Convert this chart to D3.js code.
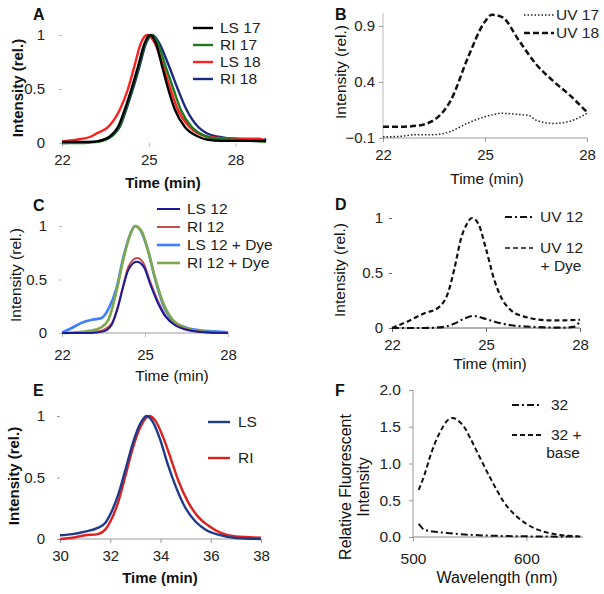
<!DOCTYPE html>
<html><head><meta charset="utf-8">
<script src="https://cdn.jsdelivr.net/npm/d3@7"></script>
<style>body{margin:0;background:#fff}svg{display:block;font-family:"Liberation Sans",Arial,sans-serif}</style>
</head><body><svg id="c" width="604" height="594"></svg>
<script>
// ---------- Panel A ----------
const aLS17 = [[22,0.01],[22.5,0.01],[23,0.01],[23.2,0.015],[23.65,0.06],[23.94,0.15],[24.17,0.31],[24.4,0.5],[24.63,0.71],[24.85,0.92],[25.05,1.0],[25.25,0.92],[25.46,0.71],[25.67,0.5],[25.9,0.31],[26.24,0.15],[26.7,0.06],[27.05,0.03],[27.5,0.02],[28,0.02],[28.5,0.02],[29.05,0.02]];
const aRI17 = [[22,0.0],[22.5,0.0],[23,0.005],[23.4,0.02],[23.7,0.06],[23.98,0.15],[24.2,0.31],[24.42,0.5],[24.65,0.71],[24.87,0.92],[25.08,1.0],[25.3,0.93],[25.58,0.71],[25.85,0.5],[26.1,0.31],[26.48,0.15],[26.9,0.07],[27.2,0.045],[27.6,0.035],[28,0.03],[28.5,0.02],[29.05,0.01]];
const aLS18 = [[22,0.015],[22.5,0.03],[23,0.06],[23.2,0.09],[23.6,0.15],[24.0,0.31],[24.28,0.5],[24.5,0.71],[24.72,0.92],[24.95,1.0],[25.2,0.93],[25.5,0.71],[25.75,0.5],[26.0,0.31],[26.4,0.15],[27.0,0.06],[27.5,0.045],[28,0.04],[28.5,0.04],[28.8,0.04],[29.05,0.02]];
const aRI18 = [[22,0.0],[22.5,0.005],[23,0.01],[23.4,0.025],[23.75,0.07],[24.0,0.15],[24.22,0.31],[24.45,0.5],[24.68,0.71],[24.9,0.92],[25.12,1.0],[25.35,0.93],[25.7,0.71],[26.0,0.5],[26.3,0.31],[26.7,0.15],[27.0,0.09],[27.35,0.06],[27.7,0.045],[28,0.04],[28.5,0.03],[28.9,0.02],[29.05,0.04]];
const aNames = ["LS 17","RI 17","LS 18","RI 18"];
const aXTicks = [22,25,28];
const aYTicks = [0,0.5,1];

// ---------- Panel B ----------
const bUV17 = [[22,-0.09],[22.5,-0.085],[23,-0.07],[23.5,-0.07],[24,-0.04],[24.5,0.034],[25,0.09],[25.5,0.12],[26,0.11],[26.3,0.1],[26.5,0.06],[27,0.03],[27.5,0.05],[28,0.12]];
const bUV18 = [[22,0.0],[22.5,0.0],[23,0.01],[23.5,0.06],[24,0.24],[24.5,0.62],[25,0.94],[25.2,1.0],[25.5,0.98],[26,0.77],[26.5,0.56],[27,0.41],[27.5,0.28],[28,0.13]];
const bNames = ["UV 17","UV 18"];
const bXTicks = [22,25,28];
const bYTicks = [-0.1,0.4,0.9];

// ---------- Panel C ----------
const cLS12 = [[22,0],[23,0],[23.5,0.015],[23.8,0.08],[24.0,0.22],[24.2,0.42],[24.4,0.59],[24.7,0.665],[24.95,0.62],[25.2,0.45],[25.45,0.29],[25.75,0.15],[26.1,0.07],[26.5,0.03],[27,0.01],[28,0]];
const cRI12 = [[22,0],[23,0],[23.2,0.01],[23.5,0.03],[23.8,0.09],[24.0,0.23],[24.2,0.43],[24.4,0.62],[24.72,0.70],[24.95,0.65],[25.2,0.47],[25.45,0.31],[25.75,0.16],[26.1,0.075],[26.5,0.035],[27,0.012],[28,0]];
const cLS12Dye = [[22,0.006],[22.3,0.04],[22.76,0.1],[23.12,0.125],[23.43,0.14],[23.67,0.22],[23.97,0.42],[24.21,0.7],[24.45,0.91],[24.64,1.0],[24.88,0.94],[25.12,0.76],[25.36,0.51],[25.66,0.26],[26.03,0.11],[26.5,0.05],[26.99,0.025],[27.48,0.015],[28,0.006]];
const cRI12Dye = [[22,0],[22.5,0.006],[23,0.02],[23.4,0.05],[23.67,0.12],[23.97,0.39],[24.21,0.68],[24.45,0.91],[24.64,1.0],[24.88,0.95],[25.12,0.76],[25.36,0.52],[25.66,0.28],[26.03,0.115],[26.5,0.045],[27,0.015],[28,0.003]];
const cNames = ["LS 12","RI 12","LS 12 + Dye","RI 12 + Dye"];
const cXTicks = [22,25,28];
const cYTicks = [0,0.5,1];

// ---------- Panel D ----------
const dUV12 = [[22,0],[23,0],[23.5,0.005],[24,0.04],[24.3,0.085],[24.6,0.11],[24.9,0.09],[25.3,0.055],[25.8,0.025],[26.5,0.01],[27.5,0.003],[27.8,0.01],[28,0.06]];
const dUV12Dye = [[22,0],[22.5,0.06],[23,0.13],[23.5,0.19],[23.8,0.33],[24.0,0.55],[24.2,0.81],[24.4,0.95],[24.55,1.0],[24.75,0.95],[25.0,0.72],[25.25,0.45],[25.5,0.27],[25.8,0.16],[26.2,0.106],[26.6,0.08],[27,0.07],[27.5,0.07],[28,0.075]];
const dNames = ["UV 12","UV 12","+ Dye"];
const dXTicks = [22,25,28];
const dYTicks = [0,0.5,1];

// ---------- Panel E ----------
const eLS = [[30,0.03],[30.5,0.04],[31,0.06],[31.5,0.09],[31.8,0.13],[32.0,0.2],[32.3,0.35],[32.6,0.56],[32.9,0.78],[33.2,0.94],[33.45,1.0],[33.7,0.95],[34.0,0.8],[34.3,0.6],[34.6,0.43],[35.0,0.25],[35.4,0.14],[35.8,0.076],[36.3,0.035],[37,0.008],[38,0]];
const eRI = [[30,0],[30.5,0.01],[31,0.03],[31.5,0.04],[31.8,0.076],[32.0,0.14],[32.3,0.29],[32.6,0.51],[32.9,0.74],[33.2,0.91],[33.55,1.0],[33.8,0.96],[34.1,0.83],[34.4,0.66],[34.7,0.48],[35.1,0.3],[35.5,0.18],[35.9,0.11],[36.4,0.05],[37,0.02],[38,0.01]];
const eNames = ["LS","RI"];
const eXTicks = [30,32,34,36,38];
const eYTicks = [0,0.5,1];

// ---------- Panel F ----------
const f32 = [[505,0.18],[510,0.1],[520,0.07],[530,0.055],[550,0.03],[570,0.018],[600,0.009],[630,0.005],[648,0.008]];
const f32Base = [[505,0.64],[510,0.84],[515,1.09],[520,1.3],[525,1.46],[530,1.58],[535,1.62],[540,1.58],[545,1.5],[550,1.36],[560,1.05],[570,0.75],[580,0.48],[590,0.3],[600,0.18],[610,0.1],[620,0.055],[630,0.027],[640,0.014],[648,0.005]];
const fNames = ["32","32 +","base"];
const fXTicks = [500,600];
const fYTicks = [0,0.5,1.0,1.5,2.0];

const svg = d3.select("#c");

function panel(o){
  const g = svg.append("g");
  const x = d3.scaleLinear().domain(o.xd).range(o.xr);
  const y = d3.scaleLinear().domain(o.yd).range(o.yr);
  const fw = o.bold ? "bold" : "normal";
  if (o.xLine) g.append("line").attr("x1",o.xr[0]).attr("x2",o.xr[1]).attr("y1",o.yr[0]).attr("y2",o.yr[0]).attr("stroke",o.xLine).attr("stroke-width",1);
  if (o.yLine) g.append("line").attr("x1",o.xr[0]).attr("x2",o.xr[0]).attr("y1",o.yr[0]).attr("y2",o.yr[1]).attr("stroke",o.yLine).attr("stroke-width",1);
  const xa = g.append("g").attr("transform",`translate(0,${o.yr[0]})`)
    .call(d3.axisBottom(x).tickValues(o.xt).tickSize(o.xTickLen||4).tickPadding(o.xPad||6).tickFormat(o.xf||d3.format("d")));
  xa.select(".domain").remove();
  xa.selectAll("line").attr("stroke",o.tickCol||"#aaa");
  xa.selectAll("text").attr("font-size",o.tfs||15).attr("fill","#222").attr("font-family","Liberation Sans, Arial");
  const ya = g.append("g").attr("transform",`translate(${o.xr[0]},0)`)
    .call(d3.axisLeft(y).tickValues(o.yt).tickSize(o.yTickLen||3).tickPadding(o.yPad||6).tickFormat(o.yf));
  ya.select(".domain").remove();
  ya.selectAll("line").attr("stroke",o.tickCol||"#aaa");
  ya.selectAll("text").attr("font-size",o.tfs||15).attr("fill","#222").attr("font-family","Liberation Sans, Arial");
  const line = d3.line().x(d=>x(d[0])).y(d=>y(d[1])).curve(d3.curveMonotoneX);
  o.series.forEach(s=>{
    g.append("path").attr("d",line(s.data)).attr("fill","none").attr("stroke",s.color)
      .attr("stroke-width",s.w).attr("stroke-dasharray",s.dash||null).attr("stroke-linejoin","round");
  });
  g.append("text").attr("x",o.xTitle[0]).attr("y",o.xTitle[1]).attr("text-anchor","middle")
    .attr("font-size",o.afs||15).attr("font-weight",fw).attr("fill","#111").text(o.xTitleText);
  const yt = g.append("text").attr("transform",`translate(${o.yTitle[0]},${o.yTitle[1]}) rotate(-90)`)
    .attr("text-anchor","middle").attr("font-size",o.afs||15).attr("font-weight",fw).attr("fill","#111");
  o.yTitleText.forEach((t,i)=>yt.append("tspan").attr("x",0).attr("dy",i===0?0:18).text(t));
  g.append("text").attr("x",o.letter[0]).attr("y",o.letter[1]).attr("font-size",16).attr("font-weight","bold").attr("fill","#111").text(o.letterText);
  o.legend.forEach(l=>{
    if (l.line) g.append("line").attr("x1",l.lx[0]).attr("x2",l.lx[1]).attr("y1",l.y).attr("y2",l.y)
      .attr("stroke",l.line.color).attr("stroke-width",l.line.w).attr("stroke-dasharray",l.line.dash||null);
    g.append("text").attr("x",l.tx).attr("y",l.y+5).attr("font-size",l.fs||15.5).attr("text-anchor",l.anchor||"start").attr("fill","#222").text(l.text);
  });
}

const fhalf = d=> d===0.5?"0.5":d3.format("d")(d);

// A
const aCol = ["#000000","#1f7a1f","#ff2020","#1a2a80"];
const aData = [aLS17,aRI17,aLS18,aRI18];
panel({xd:[22,29.05],xr:[62,266],yd:[0,1],yr:[143,35],xt:aXTicks,yt:aYTicks,yf:fhalf,bold:true,
  tickCol:"#bbb",yTickLen:0,yPad:14,xTickLen:4,xPad:7,
  series:aData.map((d,i)=>({data:d,color:aCol[i],w:2.4})).reverse(),
  xTitle:[163,188],xTitleText:"Time (min)",yTitle:[23,88],yTitleText:["Intensity (rel.)"],
  letter:[33,20],letterText:"A",
  legend:aNames.map((n,i)=>({text:n,tx:220,y:28+i*17,lx:[193,213],line:{color:aCol[i],w:2.4}}))});

// B
panel({xd:[22,28],xr:[383,587],yd:[-0.1,1.016],yr:[138,13],xt:bXTicks,yt:bYTicks,yf:d3.format(".1f"),
  xLine:"#999",yLine:"#bbb",tickCol:"#999",yTickLen:4,yPad:4,xTickLen:4,xPad:7,afs:15.5,
  series:[{data:bUV17,color:"#222",w:1.5,dash:"1.5,2"},{data:bUV18,color:"#111",w:2.5,dash:"6,3"}],
  xTitle:[487,184],xTitleText:"Time (min)",yTitle:[346,72],yTitleText:["Intensity (rel.)"],
  letter:[335,20],letterText:"B",
  legend:[{text:"UV 17",tx:556,y:15,lx:[524,554],line:{color:"#222",w:1.5,dash:"1.5,2"}},
          {text:"UV 18",tx:556,y:33,lx:[524,554],line:{color:"#111",w:2.5,dash:"6,3"}}]});

// C
const cCol = ["#1a1a9a","#c0504d","#3f7fff","#7fa84a"];
const cW = [2,2,2.6,2.6];
const cData = [cLS12,cRI12,cLS12Dye,cRI12Dye];
panel({xd:[22,28],xr:[62,228],yd:[0,1],yr:[333,226],xt:cXTicks,yt:cYTicks,yf:fhalf,afs:15.5,
  xLine:"#999",tickCol:"#bbb",yTickLen:3,yPad:12,xTickLen:0,xPad:12,
  series:[2,3,1,0].map(i=>({data:cData[i],color:cCol[i],w:cW[i]})),
  xTitle:[172,381],xTitleText:"Time (min)",yTitle:[21,275],yTitleText:["Intensity (rel.)"],
  letter:[33,211],letterText:"C",
  legend:cNames.map((n,i)=>({text:n,tx:187,y:209+i*18,lx:[157,180],line:{color:cCol[i],w:cW[i]}}))});

// D
panel({xd:[22,28],xr:[392,580],yd:[0,1],yr:[328,218],xt:dXTicks,yt:dYTicks,yf:fhalf,afs:15.5,
  xLine:"#666",tickCol:"#666",yTickLen:3,yPad:6,xTickLen:4,xPad:7,
  series:[{data:dUV12,color:"#111",w:2.2,dash:"7,3,2,3"},{data:dUV12Dye,color:"#111",w:2.2,dash:"5,3"}],
  xTitle:[490,369],xTitleText:"Time (min)",yTitle:[345,270],yTitleText:["Intensity (rel.)"],
  letter:[335,210],letterText:"D",
  legend:[{text:"UV 12",tx:540,y:217,lx:[505,533],line:{color:"#111",w:2.2,dash:"7,3,2,3"}},
          {text:"UV 12",tx:540,y:248,lx:[505,533],line:{color:"#111",w:1.6,dash:"5,3"}},
          {text:"+ Dye",tx:561,y:266,anchor:"middle"}]});

// E
const eCol = ["#1f3a8a","#dd2020"];
panel({xd:[30,38],xr:[60,261],yd:[0,1],yr:[539,416],xt:eXTicks,yt:eYTicks,yf:fhalf,bold:true,
  xLine:"#999",tickCol:"#999",yTickLen:3,yPad:12,xTickLen:4,xPad:7,
  series:[{data:eRI,color:eCol[1],w:2.4},{data:eLS,color:eCol[0],w:2.4}],
  xTitle:[160,583],xTitleText:"Time (min)",yTitle:[19,476],yTitleText:["Intensity (rel.)"],
  letter:[33,396],letterText:"E",
  legend:eNames.map((n,i)=>({text:n,tx:238,y:422+i*36,lx:[208,230],line:{color:eCol[i],w:2.4}}))});

// F
panel({xd:[500,650],xr:[413,583],yd:[0,2],yr:[537,390],xt:fXTicks,yt:fYTicks,yf:d3.format(".1f"),afs:16,tfs:15.5,
  xLine:"#888",yLine:"#999",tickCol:"#999",yTickLen:4,yPad:8,xTickLen:0,xPad:12,
  series:[{data:f32,color:"#111",w:2,dash:"7,3,2,3"},{data:f32Base,color:"#111",w:2,dash:"5,3"}],
  xTitle:[497,583],xTitleText:"Wavelength (nm)",yTitle:[351,487],yTitleText:["Relative Fluorescent","Intensity"],
  letter:[335,396],letterText:"F",
  legend:[{text:"32",tx:551,y:405,lx:[512,542],line:{color:"#111",w:2,dash:"7,3,2,3"}},
          {text:"32 +",tx:551,y:435,lx:[512,542],line:{color:"#111",w:2,dash:"5,3"}},
          {text:"base",tx:563,y:453,anchor:"middle"}]});
</script></body></html>
